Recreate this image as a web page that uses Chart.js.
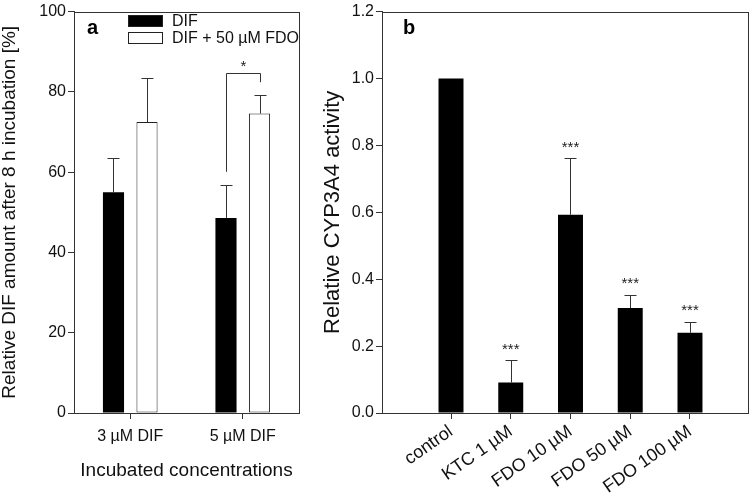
<!DOCTYPE html>
<html>
<head>
<meta charset="utf-8">
<script src="https://cdn.jsdelivr.net/npm/chart.js@4.4.1/dist/chart.umd.min.js"></script>
<style>
  html, body { margin: 0; padding: 0; background: #fff; }
  body { width: 751px; height: 494px; position: relative; overflow: hidden; }
  canvas { position: absolute; top: 0; }
  #chartA { left: 0; }
  #chartB { left: 305px; }
</style>
</head>
<body>
<canvas id="chartA" width="330" height="494"></canvas>
<canvas id="chartB" width="446" height="494"></canvas>
<script>
// ---------- Panel a data ----------
const panelACategories = ['3 µM DIF', '5 µM DIF'];
const difValues = [55.0, 48.6];
const difErrors = [8.6, 8.2];
const difFdoValues = [72.5, 74.6];
const difFdoErrors = [10.9, 4.6];
const panelAYTicks = [0, 20, 40, 60, 80, 100];
const panelASeriesNames = ['DIF', 'DIF + 50 µM FDO'];
// significance bracket between the two bars of "5 µM DIF" (values in y units)
const bracketCategory = 1;
const bracketLeftFrom = 60.1;
const bracketTop = 84.7;
const bracketRightTo = 82.4;
const bracketLabel = '*';

// ---------- Panel b data ----------
const panelBCategories = ['control', 'KTC 1 µM', 'FDO 10 µM', 'FDO 50 µM', 'FDO 100 µM'];
const activityValues = [1.0, 0.091, 0.593, 0.314, 0.240];
const activityErrors = [0, 0.066, 0.168, 0.039, 0.032];
const activitySignificance = ['', '***', '***', '***', '***'];
const panelBYTicks = [0, 0.2, 0.4, 0.6, 0.8, 1.0, 1.2];

const FONT = "'Liberation Sans', Arial, Helvetica, sans-serif";
const INK = '#333';
Chart.defaults.font.family = FONT;
Chart.defaults.color = '#111';

function px(v) { return Math.round(v) + 0.5; }

const frameAndErrors = {
  id: 'frameAndErrors',
  afterDatasetsDraw(chart) {
    const ctx = chart.ctx;
    const ys = chart.scales.y;
    ctx.save();
    ctx.strokeStyle = INK;
    ctx.lineWidth = 1;
    chart.data.datasets.forEach((ds, di) => {
      const meta = chart.getDatasetMeta(di);
      meta.data.forEach((el, i) => {
        const v = meta.controller.getParsed(i).y;
        const err = ds.errors ? ds.errors[i] : 0;
        const topV = v + (err || 0);
        const yTop = ys.getPixelForValue(topV);
        if (err) {
          const x = px(el.x);
          ctx.beginPath();
          ctx.moveTo(x, el.y);
          ctx.lineTo(x, px(yTop));
          ctx.moveTo(x - 6, px(yTop));
          ctx.lineTo(x + 6, px(yTop));
          ctx.stroke();
        }
        if (ds.stars && ds.stars[i]) {
          ctx.fillStyle = '#222';
          ctx.font = '15px ' + FONT;
          ctx.textAlign = 'center';
          ctx.textBaseline = 'middle';
          ctx.fillText(ds.stars[i], el.x, yTop - 11);
        }
      });
    });
    const a = chart.chartArea;
    ctx.strokeRect(px(a.left), px(a.top), Math.round(a.right - a.left), Math.round(a.bottom - a.top));
    ctx.restore();
  }
};

const panelAExtras = {
  id: 'panelAExtras',
  afterDraw(chart) {
    const ctx = chart.ctx;
    const ys = chart.scales.y;
    const a = chart.chartArea;
    ctx.save();
    // panel letter
    ctx.fillStyle = '#000';
    ctx.font = 'bold 20px ' + FONT;
    ctx.textAlign = 'left';
    ctx.textBaseline = 'middle';
    ctx.fillText('a', a.left + 13, 28);
    // legend
    const lx = 128, boxW = 35, boxH = 12;
    const items = [
      { y: 15, fill: '#000' },
      { y: 32, fill: '#fff' }
    ];
    items.forEach((it, i) => {
      ctx.fillStyle = it.fill;
      ctx.fillRect(lx, it.y, boxW, boxH);
      ctx.strokeStyle = '#222';
      ctx.lineWidth = 1;
      ctx.strokeRect(lx + 0.5, it.y + 0.5, boxW - 1, boxH - 1);
      ctx.fillStyle = '#111';
      ctx.font = '16px ' + FONT;
      ctx.textBaseline = 'middle';
      ctx.fillText(panelASeriesNames[i], 172, it.y + boxH / 2 + 1);
    });
    // significance bracket
    const x1 = px(chart.getDatasetMeta(0).data[bracketCategory].x);
    const x2 = px(chart.getDatasetMeta(1).data[bracketCategory].x);
    const yTop = px(ys.getPixelForValue(bracketTop));
    ctx.strokeStyle = INK;
    ctx.beginPath();
    ctx.moveTo(x1, ys.getPixelForValue(bracketLeftFrom));
    ctx.lineTo(x1, yTop);
    ctx.lineTo(x2, yTop);
    ctx.lineTo(x2, ys.getPixelForValue(bracketRightTo));
    ctx.stroke();
    ctx.fillStyle = '#222';
    ctx.font = '15px ' + FONT;
    ctx.textAlign = 'center';
    ctx.fillText(bracketLabel, (x1 + x2) / 2, yTop - 7);
    ctx.restore();
  }
};

const panelBExtras = {
  id: 'panelBExtras',
  afterDraw(chart) {
    const ctx = chart.ctx;
    const a = chart.chartArea;
    ctx.save();
    ctx.fillStyle = '#000';
    ctx.font = 'bold 20px ' + FONT;
    ctx.textAlign = 'left';
    ctx.textBaseline = 'middle';
    ctx.fillText('b', a.left + 21, 28);
    ctx.restore();
  }
};

function yAxis(ticks, width, titleText, titleSize, titlePad, fmt) {
  return {
    min: ticks[0], max: ticks[ticks.length - 1],
    afterBuildTicks: s => { s.ticks = ticks.map(v => ({ value: v })); },
    afterFit: s => { s.width = width; },
    border: { display: true, color: INK, width: 1 },
    grid: { display: true, drawOnChartArea: false, drawTicks: true, tickLength: 6, color: INK },
    ticks: { font: { size: 16 }, color: '#111', padding: 2, callback: fmt },
    title: { display: true, text: titleText, font: { size: titleSize }, color: '#111', padding: { top: titlePad, bottom: 0 } }
  };
}

// ---------- Panel a ----------
new Chart(document.getElementById('chartA'), {
  type: 'bar',
  data: {
    labels: panelACategories,
    datasets: [
      { label: panelASeriesNames[0], data: difValues, errors: difErrors,
        backgroundColor: '#000', borderColor: '#000', borderWidth: 0 },
      { label: panelASeriesNames[1], data: difFdoValues, errors: difFdoErrors,
        backgroundColor: '#fff', borderColor: '#222', borderWidth: 1, borderSkipped: false }
    ]
  },
  options: {
    responsive: false, animation: false, devicePixelRatio: 1,
    categoryPercentage: 0.596, barPercentage: 0.63,
    layout: { padding: { top: 9, right: 31, left: 0, bottom: 0 } },
    plugins: { legend: { display: false }, tooltip: { enabled: false } },
    scales: {
      x: {
        afterFit: s => { s.height = 81; },
        border: { display: true, color: INK, width: 1 },
        grid: { display: true, offset: false, drawOnChartArea: false, drawTicks: true, tickLength: 6, color: INK },
        ticks: { font: { size: 16 }, color: '#111', padding: 8, maxRotation: 0 },
        title: { display: true, text: 'Incubated concentrations', font: { size: 19 }, color: '#111', padding: { top: 0, bottom: 12 } }
      },
      y: yAxis(panelAYTicks, 74, 'Relative DIF amount after 8 h incubation [%]', 19, -2, v => String(v))
    }
  },
  plugins: [frameAndErrors, panelAExtras]
});

// ---------- Panel b ----------
new Chart(document.getElementById('chartB'), {
  type: 'bar',
  data: {
    datasets: [
      { label: 'Relative CYP3A4 activity',
        data: activityValues.map((v, i) => ({ x: i, y: v })),
        errors: activityErrors, stars: activitySignificance,
        backgroundColor: '#000', borderColor: '#000', borderWidth: 0 }
    ]
  },
  options: {
    responsive: false, animation: false, devicePixelRatio: 1,
    categoryPercentage: 1, barPercentage: 0.418,
    layout: { padding: { top: 9, right: 3, left: 0, bottom: 0 } },
    plugins: { legend: { display: false }, tooltip: { enabled: false } },
    scales: {
      x: {
        type: 'linear', offset: false,
        min: -1.155, max: 4.971,
        afterBuildTicks: s => { s.ticks = panelBCategories.map((_, i) => ({ value: i })); },
        afterFit: s => { s.height = 81; },
        border: { display: true, color: INK, width: 1 },
        grid: { display: true, offset: false, drawOnChartArea: false, drawTicks: true, tickLength: 6, color: INK },
        ticks: { font: { size: 18 }, color: '#111', padding: 2, autoSkip: false,
                 minRotation: 35, maxRotation: 35,
                 callback: v => panelBCategories[v] }
      },
      y: yAxis(panelBYTicks, 77, 'Relative CYP3A4 activity', 22, 15, v => v.toFixed(1))
    }
  },
  plugins: [frameAndErrors, panelBExtras]
});
</script>
</body>
</html>
